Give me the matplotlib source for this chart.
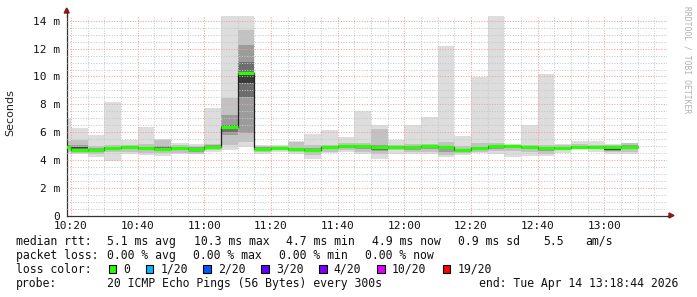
import matplotlib
matplotlib.use("Agg")
import matplotlib.pyplot as plt
import numpy as np

# ---------------- data (ms) ----------------
starts = ["10:15", "10:20", "10:25", "10:30", "10:35", "10:40", "10:45", "10:50", "10:55",
          "11:00", "11:05", "11:10", "11:15", "11:20", "11:25", "11:30", "11:35", "11:40",
          "11:45", "11:50", "11:55", "12:00", "12:05", "12:10", "12:15", "12:20", "12:25",
          "12:30", "12:35", "12:40", "12:45", "12:50", "12:55", "13:00", "13:05"]
median = [4.90, 4.71, 4.71, 4.88, 4.92, 4.83, 4.81, 4.85, 4.76,
          4.93, 6.39, 10.25, 4.80, 4.85, 4.81, 4.72, 4.90, 5.00,
          4.98, 4.95, 4.95, 4.93, 5.00, 4.93, 4.71, 4.83, 5.00,
          5.00, 4.95, 4.85, 4.88, 4.95, 4.95, 4.92, 4.95]
ping_min = [4.45, 4.40, 4.19, 3.95, 4.40, 4.35, 4.30, 4.40, 4.40,
            4.60, 4.70, 4.95, 4.40, 4.60, 4.45, 4.06, 4.50, 4.55,
            4.40, 4.10, 4.40, 4.40, 4.40, 4.20, 4.35, 4.50, 4.40,
            4.20, 4.30, 4.30, 4.50, 4.80, 4.60, 4.40, 4.45]
ping_max = [7.00, 6.30, 5.77, 8.15, 5.46, 6.37, 5.50, 5.20, 5.15,
            7.74, 14.60, 14.60, 5.10, 5.10, 5.36, 5.89, 6.13, 5.65,
            7.50, 6.54, 5.41, 6.54, 7.09, 12.19, 5.72, 9.96, 14.60,
            5.12, 6.49, 10.17, 5.12, 5.34, 5.34, 5.12, 5.15]
b_lo = [4.60, 4.50, 4.40, 4.55, 4.60, 4.50, 4.50, 4.50, 4.45,
        4.70, 5.07, 5.30, 4.55, 4.70, 4.60, 4.35, 4.60, 4.70,
        4.60, 4.40, 4.70, 4.60, 4.60, 4.35, 4.50, 4.60, 4.65,
        4.65, 4.55, 4.45, 4.70, 4.85, 4.80, 4.55, 4.60]
b_hi = [5.35, 5.43, 5.00, 5.05, 5.05, 5.15, 5.43, 5.05, 5.00,
        5.15, 8.43, 13.35, 5.00, 5.00, 5.30, 5.10, 5.10, 5.20,
        5.20, 6.20, 5.10, 5.15, 5.15, 5.30, 5.00, 5.20, 5.25,
        5.10, 5.10, 5.05, 5.05, 5.15, 5.10, 5.05, 5.20]
c_lo = [4.75, 4.62, 4.60, 4.75, 4.80, 4.70, 4.65, 4.72, 4.60,
        4.82, 5.80, 5.93, 4.70, 4.78, 4.62, 4.55, 4.78, 4.85,
        4.80, 4.62, 4.85, 4.72, 4.80, 4.55, 4.62, 4.70, 4.80,
        4.85, 4.75, 4.65, 4.80, 4.90, 4.88, 4.65, 4.80]
c_hi = [5.05, 5.05, 4.85, 4.95, 5.00, 4.95, 5.00, 4.95, 4.90,
        5.05, 7.23, 12.30, 4.90, 4.92, 4.88, 4.85, 5.00, 5.10,
        5.10, 5.10, 5.00, 4.98, 5.05, 4.95, 4.82, 4.90, 5.05,
        5.05, 5.00, 4.85, 4.95, 5.00, 5.00, 4.85, 5.05]
d_lo = [4.85, 4.70, 4.68, 4.85, 4.88, 4.78, 4.70, 4.80, 4.70,
        4.90, 6.00, 8.55, 4.78, 4.84, 4.66, 4.65, 4.86, 4.95,
        4.92, 4.70, 4.92, 4.76, 4.95, 4.75, 4.68, 4.78, 4.92,
        4.95, 4.88, 4.72, 4.85, 4.94, 4.92, 4.70, 4.90]
d_hi = [4.95, 4.95, 4.75, 4.92, 4.96, 4.88, 4.92, 4.90, 4.82,
        4.98, 6.50, 11.07, 4.85, 4.88, 4.80, 4.78, 4.94, 5.05,
        5.03, 4.98, 4.98, 4.88, 5.03, 4.92, 4.75, 4.86, 5.03,
        5.03, 4.98, 4.80, 4.92, 4.98, 4.98, 4.80, 4.98]
e_lo = [4.88, 4.85, 4.70, 4.88, 4.90, 4.80, 4.75, 4.82, 4.72,
        4.92, 6.25, 9.50, 4.79, 4.85, 4.70, 4.68, 4.88, 4.97,
        4.95, 4.88, 4.93, 4.78, 4.97, 4.85, 4.69, 4.80, 4.95,
        4.97, 4.92, 4.74, 4.86, 4.95, 4.93, 4.72, 4.92]
e_hi = [4.93, 4.92, 4.73, 4.90, 4.94, 4.86, 4.82, 4.88, 4.78,
        4.96, 6.45, 10.35, 4.83, 4.87, 4.76, 4.74, 4.92, 5.02,
        5.00, 4.93, 4.97, 4.84, 5.01, 4.90, 4.73, 4.84, 5.01,
        5.01, 4.96, 4.78, 4.90, 4.97, 4.97, 4.76, 4.96]

x_labels = ["10:20", "10:40", "11:00", "11:20", "11:40", "12:00", "12:20", "12:40", "13:00"]
y_ticks = [0, 2, 4, 6, 8, 10, 12, 14]
y_labels = ["0", "2 m", "4 m", "6 m", "8 m", "10 m", "12 m", "14 m"]

legend_colors = ["#26ff00", "#00b8ff", "#0059ff", "#5e00ff", "#7e00ff", "#dd00ff", "#ff0000"]
legend_names = ["0", "1/20", "2/20", "3/20", "4/20", "10/20", "19/20"]

# --------------- helpers ---------------
def tmin(s):
    h, m = s.split(":")
    return (int(h) - 10) * 60 + int(m)

W, H = 697, 297
fig = plt.figure(figsize=(W / 100, H / 100), dpi=100)
fig.patch.set_facecolor("white")

def fx(px):
    return px / W

def fy(py):
    return 1 - py / H

ax_l, ax_r, ax_t, ax_b = 66.7, 666.7, 15.5, 215.5
ax = fig.add_axes([fx(ax_l), fy(ax_b), (ax_r - ax_l) / W, (ax_b - ax_t) / H])
ax.set_facecolor("white")

x0 = [tmin(s) for s in starts]
step = 5

bands = [(ping_min, ping_max, "#dddddd"),
         (b_lo, b_hi, "#c2c2c2"),
         (c_lo, c_hi, "#9c9c9c"),
         (d_lo, d_hi, "#6e6e6e"),
         (e_lo, e_hi, "#3a3a3a")]
for lo, hi, col in bands:
    ax.bar(x0, np.array(hi) - np.array(lo), bottom=lo, width=step, align="edge",
           color=col, linewidth=0, zorder=1)

edges = x0 + [x0[-1] + step]
ax.stairs(median, edges, color="#202020", linewidth=0.9, zorder=3, baseline=None)
ax.hlines(median, x0, np.array(x0) + step, color="#26ff00", linewidth=2.3, zorder=4)

xmin = tmin("10:20") - (1 + 16 / 60)
ax.set_xlim(xmin, xmin + 180)
ax.set_ylim(0, 200 / 13.9)

ax.set_xticks([tmin(s) for s in x_labels])
ax.set_xticklabels(x_labels)
ax.set_xticks(np.arange(tmin("10:20"), tmin("13:15") + 1, 5), minor=True)
ax.set_yticks(y_ticks)
ax.set_yticklabels(y_labels)
ax.set_yticks(np.arange(0, 14.5, 0.5), minor=True)

ax.set_axisbelow(False)
ax.grid(which="minor", color="#c8c8c8", linestyle=(0, (1, 1.5)), linewidth=0.75, zorder=2)
ax.grid(which="major", color="#f0a0a0", linestyle=(0, (1, 1.5)), linewidth=0.75, zorder=2)
for gl in ax.get_xgridlines() + ax.get_ygridlines():
    gl.set_zorder(2)

mono = "DejaVu Sans Mono"
ax.tick_params(which="both", length=0)
ax.tick_params(axis="x", pad=4, labelsize=8.0, labelcolor="#111111")
ax.tick_params(axis="y", pad=5, labelsize=8.0, labelcolor="#111111")
for lab in ax.get_xticklabels() + ax.get_yticklabels():
    lab.set_fontfamily(mono)

for sp in ["top", "right"]:
    ax.spines[sp].set_visible(False)
ax.spines["left"].set_color("#333333")
ax.spines["bottom"].set_color("#333333")
ax.spines["left"].set_linewidth(0.9)
ax.spines["bottom"].set_linewidth(0.9)

# axis arrows
fig.add_artist(matplotlib.lines.Line2D([fx(ax_l), fx(ax_l)], [fy(ax_t), fy(9)], color="#333333", linewidth=0.9))
fig.add_artist(matplotlib.lines.Line2D([fx(ax_r), fx(670)], [fy(ax_b), fy(ax_b)], color="#333333", linewidth=0.9))
fig.add_artist(matplotlib.patches.Polygon([[fx(ax_l - 2.5), fy(13)], [fx(ax_l + 2.5), fy(13)], [fx(ax_l), fy(8)]],
                                          closed=True, color="#a01010", transform=fig.transFigure))
fig.add_artist(matplotlib.patches.Polygon([[fx(669), fy(ax_b - 2.5)], [fx(669), fy(ax_b + 2.5)], [fx(674), fy(ax_b)]],
                                          closed=True, color="#a01010", transform=fig.transFigure))

# y label and watermark
fig.text(fx(10.5), fy(113), "Seconds", rotation=90, ha="center", va="center",
         fontsize=8, family="DejaVu Sans", color="#222222")
fig.text(fx(686.5), fy(60), "RRDTOOL / TOBI OETIKER", rotation=270, ha="center", va="center",
         fontsize=5.8, family=mono, color="#b0b0b0")

# legend text
fs = 8.3
txt = dict(fontsize=fs, family=mono, color="#111111", va="center", ha="left")
row1 = [(16, "median rtt:"), (107.3, "5.1 ms avg"), (194, "10.3 ms max"), (286, "4.7 ms min"),
        (372.3, "4.9 ms now"), (458.3, "0.9 ms sd"), (543, "5.5"), (585, "am/s")]
row2 = [(16, "packet loss:"), (107.3, "0.00 % avg"), (193.3, "0.00 % max"), (279.3, "0.00 % min"),
        (365.3, "0.00 % now")]
for x, s in row1:
    fig.text(fx(x), fy(241.3), s, **txt)
for x, s in row2:
    fig.text(fx(x), fy(255.3), s, **txt)
fig.text(fx(16), fy(269.3), "loss color:", **txt)
box_x = [108.7, 145.7, 203.3, 261.3, 319.3, 377.3, 442.7]
for bx, col, name in zip(box_x, legend_colors, legend_names):
    fig.add_artist(matplotlib.patches.Rectangle((fx(bx), fy(273)), 7.3 / W, 8.5 / H,
                                                facecolor=col, edgecolor="black", linewidth=0.8,
                                                transform=fig.transFigure))
    fig.text(fx(bx + 14.5), fy(269.3), name, **txt)
fig.text(fx(16), fy(283), "probe:", **txt)
fig.text(fx(107.3), fy(283), "20 ICMP Echo Pings (56 Bytes) every 300s", **txt)
fig.text(fx(479), fy(283), "end: Tue Apr 14 13:18:44 2026", **txt)

fig.savefig("out.png", dpi=100, facecolor="white")
